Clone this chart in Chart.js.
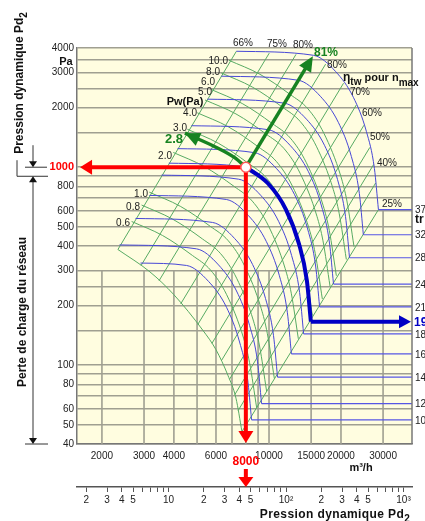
<!DOCTYPE html>
<html><head><meta charset="utf-8">
<script src="https://cdn.jsdelivr.net/npm/chart.js@4.4.1/dist/chart.umd.min.js"></script>
<style>html,body{margin:0;padding:0;background:#fff;}canvas{display:block;}</style>
</head><body>
<canvas id="c" width="425" height="521"></canvas>
<script>
// ---------- DATA ----------
const flowMin = 1573, flowMax = 39640;           // m3/h
const pressMin = 40, pressMax = 4000;            // Pa
const pdMin = 1.665, pdMax = 1181;               // Pa (dynamic pressure scale)
const yGridValues = [40,50,60,70,80,90,100,150,200,250,300,400,500,600,700,800,900,1000,1500,2000,2500,3000,3500,4000];
const yLabelValues = [40,50,60,80,100,200,300,400,500,600,800,1000,2000,3000,4000];
const xLabelValues = [2000,3000,4000,6000,10000,15000,20000,30000];
const xGridValues = [2000,3000,4000,5000,6000,7000,8000,9000,10000,15000,20000,30000];
const xGridTops   = [300,300,300,300,300,300,300,300,300,168,300,610];
const pdTickValues = [2,3,4,5,6,7,8,9,10,20,30,40,50,60,70,80,90,100,200,300,400,500,600,700,800,900,1000];
const pdLabelValues = [2,3,4,5,10,20,30,40,50,100,200,300,400,500,1000];
const pdLabelTexts  = ['2','3','4','5','10','2','3','4','5','10\u00b2','2','3','4','5','10\u00b3'];

// fan speed curves (tr/min)
const speeds = [3700,3200,2800,2400,2100,1930,1800,1600,1400,1200,1090];
const speedFlows = [
  [7304,15336,18955,22544,25554,27601,28686],
  [6317,13264,16394,19498,22101,23872,24810],
  [5528,11608,14347,17064,19342,20891,21713],
  [4738,9948,12296,14624,16576,17904,18608],
  [4145,8704,10758,12795,14503,15665,16281],
  [3810,8000,9888,11760,13330,14398,14964],
  [3553,7461,9222,10967,12432,13428,13955],
  [3158,6632,8197,9749,11051,11936,12405],
  [2764,5803,7173,8531,9670,10444,10855],
  [2369,4974,6148,7312,8289,8953,9305],
  [2900,4518,5585,6642,7529,8132,8452]
];
const speedPressures = [
  [3851,3675,3050,2253,1514,985,610],
  [2881,2749,2282,1685,1133,737,456],
  [2206,2105,1747,1290,867,564,349],
  [1620,1546,1283,948,637,414,257],
  [1241,1184,983,726,488,317,197],
  [1048,1000,830,613,412,268,166],
  [912,870,722,533,358,233,144],
  [720,687,570,421,283,184,114],
  [551,526,437,323,217,141,87],
  [405,387,321,237,159,104,64],
  [328,319,265,196,131,85.5,53]
];

// shaft power curves (kW)
const powerKW = [10,8,6,5,4,3,2,1,0.8,0.6];
const powerFlows = [
  [6798,9159,12225,14553,16983,19988,21179,22677],
  [6314,8506,11353,13515,15772,18562,19669,21059],
  [5735,7727,10313,12277,14327,16861,17867,19130],
  [5398,7273,9706,11555,13485,15870,16816,18005],
  [5010,6750,9010,10726,12517,14731,15609,16713],
  [4553,6134,8186,9746,11373,13385,14183,15186],
  [3977,5358,7151,8513,9935,11692,12389,13266],
  [3157,4253,5676,6757,7885,9280,9834,10529],
  [2930,3948,5269,6272,7320,8615,9128,9774],
  [2662,3586,4786,5698,6650,7826,8292,8879]
];
const powerPressures = [
  [3467,2947,2335,1971,1480,897,675,397],
  [2991,2542,2014,1700,1277,773,582,342],
  [2468,2097,1662,1403,1054,638,480,283],
  [2186,1858,1472,1242,933,565,425,250],
  [1883,1601,1268,1070,804,487,367,216],
  [1555,1322,1047,884,664,402,303,178],
  [1187,1008,799,674,507,307,231,136],
  [748,635,503,425,319,193,145,85.6],
  [644,547,434,366,275,167,125,73.7],
  [532,452,358,302,227,137,103,60.9]
];
// lower boundary arc of the field
const boundaryFlows = [2333,3176,4000,5288,5994,6728,7272,7706];
const boundaryPressures = [384,296,227,150,120,89,68.2,46.2];

// efficiency lines (p ~ Q^2), inner end and outer end
const effFlows = [
  [2333,7304],[2916,10024],[3466,12970],[4270,17250],[5036,20500],[5768,23200],
  [6332,24960],[6840,26410],[7186,27380],[7426,27960],[7706,28686]
];
const effPressures = [
  [384,3851],[319,3769],[267,3715],[204,3316],[160.6,2656],[128.9,2065],
  [105.8,1630],[85,1259],[70.9,1031],[59,834],[46.2,610]
];

// operating point and arrows
const opFlow = 8000, opPressure = 1000;
const opEffLabel = '81%';
const opPowerLabel = '2.8';
const redArrowLeftFlow = 1620;
const effArrowFlow = 15256, effArrowPressure = 3637;
const powerArrowFlows = [4449,5994,7206,8000];
const powerArrowPressures = [1485,1262,1114,1000];
const opSpeedIndex = 5;

// ---------- STYLE ----------
const FONT = "'Liberation Sans', Arial, sans-serif";
Chart.defaults.font.family = FONT;
const GRID = '#a09f91';
const GREEN = '#58ab64';
const BLUE = '#4848d6';
const RED = '#ff0000';
const DKGREEN = '#178321';
const DKBLUE = '#0000c4';

const datasets = [];
function addLine(xs, ys, color, width, order, smooth) {
  datasets.push({
    data: xs.map((x, i) => ({x: x, y: ys[i]})),
    borderColor: color, borderWidth: width, pointRadius: 0, fill: false,
    order: order, tension: 0,
    cubicInterpolationMode: smooth ? 'monotone' : 'default'
  });
}
effFlows.forEach((f, i) => addLine(f, effPressures[i], GREEN, 1, 60, false));
powerFlows.forEach((f, i) => addLine(f, powerPressures[i], GREEN, 1, 55, true));
addLine(boundaryFlows, boundaryPressures, GREEN, 1, 55, true);
speedFlows.forEach((f, i) => {
  addLine(f, speedPressures[i], BLUE, 1, 40, true);
  const pe = speedPressures[i][speedPressures[i].length - 1];
  const fe = f[f.length - 1];
  if (i !== opSpeedIndex) addLine([fe, flowMax], [pe, pe], '#5656e4', 1.2, 40, false);
});
addLine(speedFlows[opSpeedIndex].slice(1), speedPressures[opSpeedIndex].slice(1), DKBLUE, 4, 10, true);
addLine(powerArrowFlows, powerArrowPressures, DKGREEN, 3.5, 5, true);

function head(ctx, tx, ty, fx, fy, len, half, color) {
  const a = Math.atan2(ty - fy, tx - fx);
  const bx = tx - len * Math.cos(a), by = ty - len * Math.sin(a);
  ctx.save(); ctx.fillStyle = color; ctx.beginPath();
  ctx.moveTo(tx, ty);
  ctx.lineTo(bx + half * Math.sin(a), by - half * Math.cos(a));
  ctx.lineTo(bx - half * Math.sin(a), by + half * Math.cos(a));
  ctx.closePath(); ctx.fill(); ctx.restore();
}
function seg(ctx, x1, y1, x2, y2, color, w) {
  ctx.save(); ctx.strokeStyle = color; ctx.lineWidth = w; ctx.lineCap = 'butt';
  ctx.beginPath(); ctx.moveTo(x1, y1); ctx.lineTo(x2, y2); ctx.stroke(); ctx.restore();
}
function arrow(ctx, x1, y1, x2, y2, color, w, len, half) {
  const d = Math.hypot(x2 - x1, y2 - y1);
  const t = (d - len + 2) / d;
  seg(ctx, x1, y1, x1 + (x2 - x1) * t, y1 + (y2 - y1) * t, color, w);
  head(ctx, x2, y2, x1, y1, len, half, color);
}
function txt(ctx, s, x, y, font, color, align, base) {
  ctx.save(); ctx.font = font; ctx.fillStyle = color;
  ctx.textAlign = align || 'center'; ctx.textBaseline = base || 'middle';
  ctx.fillText(s, x, y); ctx.restore();
}
function subTxt(ctx, main, sub, x, y, size, color, spacing) {
  ctx.save();
  ctx.fillStyle = color; ctx.textBaseline = 'alphabetic';
  if (spacing) ctx.letterSpacing = spacing;
  ctx.font = 'bold ' + size + 'px ' + FONT;
  const w1 = ctx.measureText(main).width;
  ctx.font = 'bold ' + Math.round(size * 0.8) + 'px ' + FONT;
  const w2 = ctx.measureText(sub).width;
  const x0 = x - (w1 + w2) / 2;
  ctx.font = 'bold ' + size + 'px ' + FONT;
  ctx.textAlign = 'left';
  ctx.fillText(main, x0, y);
  ctx.font = 'bold ' + Math.round(size * 0.8) + 'px ' + FONT;
  ctx.fillText(sub, x0 + w1, y + size * 0.3);
  ctx.restore();
}

const deco = {
  id: 'deco',
  beforeDraw(chart) {
    const {ctx, chartArea: a} = chart;
    ctx.save(); ctx.fillStyle = '#fffde0';
    ctx.fillRect(a.left, a.top, a.right - a.left, a.bottom - a.top); ctx.restore();
  },
  beforeDatasetsDraw(chart) {
    const {ctx} = chart; const xs = chart.scales.x, ys = chart.scales.y;
    xGridValues.forEach((q, i) => {
      const X = xs.getPixelForValue(q);
      seg(ctx, X, ys.getPixelForValue(pressMin), X, ys.getPixelForValue(xGridTops[i]), GRID, 1.6);
    });
  },
  afterDatasetsDraw(chart) {
    const {ctx, chartArea: a} = chart; const xs = chart.scales.x, ys = chart.scales.y;
    const ox = xs.getPixelForValue(opFlow), oy = ys.getPixelForValue(opPressure);
    seg(ctx, a.right, a.top, a.right, a.bottom, '#777', 1.5);
    const sp = speedPressures[opSpeedIndex], sf = speedFlows[opSpeedIndex];
    const by = ys.getPixelForValue(sp[sp.length - 1]);
    arrow(ctx, xs.getPixelForValue(sf[sf.length - 1]), by, xs.getPixelForValue(flowMax) - 1, by, DKBLUE, 4, 12, 6.5);
    const tx = xs.getPixelForValue(powerArrowFlows[0]), ty = ys.getPixelForValue(powerArrowPressures[0]);
    const fx = xs.getPixelForValue(powerArrowFlows[1]), fy = ys.getPixelForValue(powerArrowPressures[1]);
    head(ctx, tx, ty, fx, fy, 15, 7, DKGREEN);
    arrow(ctx, ox, oy, xs.getPixelForValue(effArrowFlow), ys.getPixelForValue(effArrowPressure), DKGREEN, 3.5, 15, 7);
    arrow(ctx, ox, oy, xs.getPixelForValue(redArrowLeftFlow), oy, RED, 4, 12, 7.5);
    arrow(ctx, ox, oy, ox, ys.getPixelForValue(pressMin) - 1, RED, 4, 12, 7.5);
    arrow(ctx, ox, a.bottom + 25, ox, a.bottom + 43, RED, 4, 10, 7.5);
    ctx.save(); ctx.beginPath(); ctx.arc(ox, oy, 5, 0, Math.PI * 2);
    ctx.fillStyle = '#fff'; ctx.fill(); ctx.strokeStyle = '#ff5a5a'; ctx.lineWidth = 1.5; ctx.stroke(); ctx.restore();
  },
  afterDraw(chart) {
    const {ctx} = chart; const xs = chart.scales.x, ys = chart.scales.y;
    const F10 = '10px ' + FONT;
    [['66%',243,43],['75%',277,44],['80%',303,45],['80%',337,65],['70%',360,92],['60%',372,113],
     ['50%',380,137],['40%',387,163],['25%',392,204]].forEach(l => txt(ctx, l[0], l[1], l[2], F10, '#222'));
    txt(ctx, opEffLabel, 326, 53, 'bold 12px ' + FONT, DKGREEN);
    ctx.save(); ctx.fillStyle = '#111'; ctx.textBaseline = 'alphabetic'; ctx.textAlign = 'left';
    let x = 343; ctx.font = 'bold 12px ' + FONT; ctx.fillText('\u03b7', x, 81); x += ctx.measureText('\u03b7').width;
    ctx.font = 'bold 10px ' + FONT; ctx.fillText('tw', x, 85); x += ctx.measureText('tw').width + 3;
    ctx.font = 'bold 11px ' + FONT; ctx.fillText('pour n', x, 81); x += ctx.measureText('pour n').width;
    ctx.font = 'bold 10px ' + FONT; ctx.fillText('max', x, 86);
    ctx.restore();
    [['10.0',228,61],['8.0',220,72],['6.0',215,82],['5.0',212,92],['4.0',197,113],['3.0',187,128],
     ['2.0',172,156],['1.0',148,194],['0.8',140,207],['0.6',130,223]].forEach(l => txt(ctx, l[0], l[1], l[2], F10, '#222', 'right'));
    txt(ctx, 'Pw(Pa)', 185, 102, 'bold 11px ' + FONT, '#111');
    txt(ctx, opPowerLabel, 174, 139, 'bold 13px ' + FONT, DKGREEN);
    speeds.forEach((s, i) => {
      const p = speedPressures[i][speedPressures[i].length - 1];
      const Y = ys.getPixelForValue(p) + 1;
      if (i === opSpeedIndex) txt(ctx, String(s), 414, Y, 'bold 12px ' + FONT, DKBLUE, 'left');
      else txt(ctx, String(s), 415, Y, F10, '#222', 'left');
    });
    txt(ctx, 'tr /min', 415, 220, 'bold 12px ' + FONT, '#111', 'left');
    txt(ctx, 'Pa', 66, 62, 'bold 11px ' + FONT, '#111');
    txt(ctx, 'm\u00b3/h', 361, 468, 'bold 11px ' + FONT, '#111');
    txt(ctx, String(opFlow), xs.getPixelForValue(opFlow), 462, 'bold 12px ' + FONT, RED);
    ctx.save(); ctx.translate(19, 83); ctx.rotate(-Math.PI / 2);
    subTxt(ctx, 'Pression dynamique Pd', '2', 0, 4, 12, '#111'); ctx.restore();
    ctx.save(); ctx.translate(23, 312); ctx.rotate(-Math.PI / 2);
    txt(ctx, 'Perte de charge du r\u00e9seau', 0, 0, 'bold 12px ' + FONT, '#111'); ctx.restore();
    subTxt(ctx, 'Pression dynamique Pd', '2', 335, 518, 12, '#111', '0.4px');
    const y1 = ys.getPixelForValue(opPressure), y9 = ys.getPixelForValue(900), y0 = ys.getPixelForValue(pressMin);
    const K = '#333';
    seg(ctx, 25, y1, 47, y1, K, 1);
    seg(ctx, 17, y9, 48, y9, K, 1);
    seg(ctx, 17, y1 - 7, 17, y9, K, 1);
    seg(ctx, 33, y1 - 22, 33, y1 - 5, K, 1);
    head(ctx, 33, y1, 33, y1 - 10, 6, 4, '#111');
    seg(ctx, 33, y9 + 5, 33, y0 - 5, K, 1);
    head(ctx, 33, y9, 33, y9 + 10, 6, 4, '#111');
    head(ctx, 33, y0, 33, y0 - 10, 6, 4, '#111');
    seg(ctx, 25, y0, 48, y0, K, 1);
  }
};

new Chart(document.getElementById('c'), {
  type: 'line',
  data: {datasets: datasets},
  plugins: [deco],
  options: {
    responsive: false, animation: false, devicePixelRatio: 1,
    parsing: false, normalized: true,
    layout: {padding: {top: 48, right: 13, left: 0, bottom: 0}},
    plugins: {legend: {display: false}, tooltip: {enabled: false}},
    scales: {
      x: {
        type: 'logarithmic', position: 'bottom', min: flowMin, max: flowMax, weight: 0,
        afterBuildTicks: s => { s.ticks = xLabelValues.map(v => ({value: v})); },
        afterFit: s => { s.height = 43; },
        grid: {display: false, drawTicks: false},
        border: {display: true, color: '#777', width: 1.5},
        ticks: {autoSkip: false, maxRotation: 0, padding: 6, color: '#222', font: {size: 10},
          callback: v => xLabelValues.includes(v) ? String(v) : ''}
      },
      pd: {
        type: 'logarithmic', axis: 'x', position: 'bottom', min: pdMin, max: pdMax, weight: 1,
        afterBuildTicks: s => { s.ticks = pdTickValues.map(v => ({value: v})); },
        afterFit: s => { s.height = 34; },
        grid: {drawOnChartArea: false, drawTicks: true, tickLength: 5, color: '#555', lineWidth: 1},
        border: {display: true, color: '#555', width: 1.5},
        ticks: {autoSkip: false, maxRotation: 0, padding: 2, color: '#222', font: {size: 10},
          callback: v => { const i = pdLabelValues.indexOf(v); return i >= 0 ? pdLabelTexts[i] : ''; }}
      },
      y: {
        type: 'logarithmic', position: 'left', min: pressMin, max: pressMax,
        afterBuildTicks: s => { s.ticks = yGridValues.map(v => ({value: v})); },
        afterFit: s => { s.width = 77; },
        grid: {color: GRID, lineWidth: 1.6, drawTicks: false},
        border: {display: true, color: '#777', width: 1.5},
        ticks: {autoSkip: false, padding: 3,
          color: c => (c.tick && c.tick.value === opPressure) ? RED : '#222',
          font: c => (c.tick && c.tick.value === opPressure) ? {size: 11, weight: 'bold'} : {size: 10},
          callback: v => yLabelValues.includes(v) ? String(v) : ''}
      }
    }
  }
});
</script>
</body></html>
